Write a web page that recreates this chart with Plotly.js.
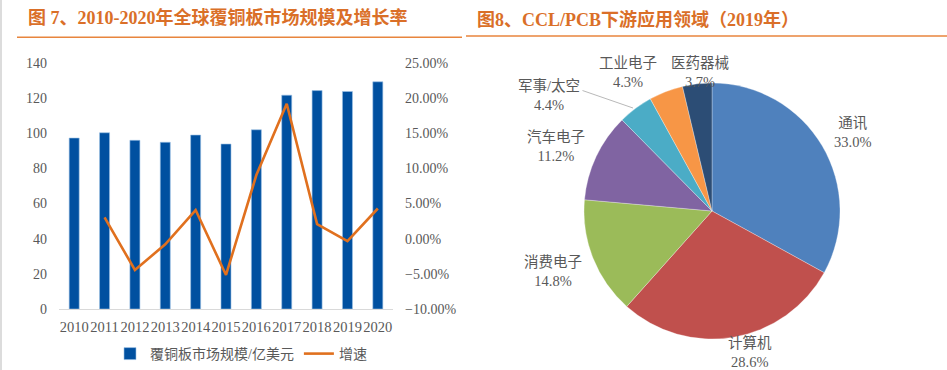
<!DOCTYPE html>
<html><head><meta charset="utf-8">
<script src="https://cdn.plot.ly/plotly-3.0.1.min.js"></script>
<style>html,body{margin:0;padding:0;background:#fff}#c{width:947px;height:370px}</style>
</head><body><div id="c"></div>
<script>
// ---- data ----
const years = ['2010','2011','2012','2013','2014','2015','2016','2017','2018','2019','2020'];
const marketSize = [97.3, 100.3, 96.0, 94.9, 99.0, 93.9, 102.0, 121.7, 124.3, 123.8, 129.3];
const growth = [null, 0.0304, -0.0445, -0.008, 0.0408, -0.0516, 0.0906, 0.192, 0.0209, -0.0033, 0.043];
const barName = '覆铜板市场规模/亿美元';
const lineName = '增速';
const pieLabels = ['通讯','计算机','消费电子','汽车电子','军事/太空','工业电子','医药器械'];
const pieValues = [33.0, 28.6, 14.8, 11.2, 4.4, 4.3, 3.7];
const title1 = '图 7、2010-2020年全球覆铜板市场规模及增长率';
const title2 = '图8、CCL/PCB下游应用领域（2019年）';

// ---- styles / layout ----
const W = 947, H = 370;
const px = x => x / W, py = y => 1 - y / H;
const serif = '"Liberation Serif", "Times New Roman", "Noto Sans CJK SC", serif';
const gray = '#595959';
const pieColors = ['#4F81BD','#C0504D','#9BBB59','#8064A2','#4BACC6','#F79646','#2C4D75'];
// label centre positions (pixels) for pie labels
const labelAnchor = [[852,132],[750,352],[553,271],[556,147],[549,95],[628,72],[700,72]];

const traces = [
  {type:'bar', x:years, y:marketSize, name:barName, width:0.33,
   marker:{color:'#0050A0', line:{color:'#9DC3E6', width:0.6}}, xaxis:'x', yaxis:'y'},
  {type:'scatter', mode:'lines', x:years, y:growth, name:lineName, connectgaps:false,
   line:{color:'#E0701E', width:2.6}, xaxis:'x', yaxis:'y2'},
  {type:'pie', labels:pieLabels, values:pieValues, sort:false, direction:'clockwise', rotation:0,
   marker:{colors:pieColors, line:{color:'#ffffff', width:0.3}}, textinfo:'none', hoverinfo:'label+percent',
   showlegend:false, domain:{x:[px(584), px(840)], y:[py(339), py(83)]}}
];

const annotations = [
  {text:'<b>'+title1+'</b>', xref:'paper', yref:'paper', x:px(26), y:py(18), xanchor:'left', yanchor:'middle',
   showarrow:false, font:{family:serif, size:18, color:'#DA6F28'}},
  {text:'<b>'+title2+'</b>', xref:'paper', yref:'paper', x:px(475), y:py(19), xanchor:'left', yanchor:'middle',
   showarrow:false, font:{family:serif, size:18, color:'#DA6F28'}}
];
pieLabels.forEach((lab, i) => {
  annotations.push({text: lab + '<br>' + pieValues[i].toFixed(1) + '%', xref:'paper', yref:'paper',
    x:px(labelAnchor[i][0]), y:py(labelAnchor[i][1]), xanchor:'center', yanchor:'middle',
    showarrow:false, align:'center', font:{family:serif, size:14.5, color:gray}});
});
// leader line for 军事/太空
annotations.push({text:'', xref:'paper', yref:'paper', axref:'paper', ayref:'paper',
  x:px(633), y:py(108), ax:px(581), ay:py(90), showarrow:true, arrowhead:0, arrowwidth:0.8, arrowcolor:'#A6A6A6'});

const layout = {
  width:W, height:H, margin:{l:0,r:0,t:0,b:0}, paper_bgcolor:'#fff', plot_bgcolor:'rgba(0,0,0,0)',
  font:{family:serif, color:gray},
  xaxis:{domain:[px(59), px(393)], type:'category', showline:true, linecolor:'#D9D9D9', linewidth:1,
         ticks:'', tickangle:0, tickfont:{family:serif, size:14.5, color:gray}, showgrid:false, zeroline:false,
         ticklabelstandoff:5},
  yaxis:{domain:[py(309), py(63)], range:[0,140], dtick:20, showgrid:false, zeroline:false, showline:false,
         tickfont:{family:serif, size:14, color:gray}, ticks:'', ticklabelstandoff:11},
  yaxis2:{overlaying:'y', side:'right', range:[-0.10,0.25], dtick:0.05, tickformat:'.2%', showgrid:false,
          zeroline:false, showline:false, tickfont:{family:serif, size:14, color:gray}, anchor:'x', ticklabelstandoff:11},
  bargap:0.67,
  legend:{orientation:'h', x:px(110), y:py(354), xanchor:'left', yanchor:'middle',
          font:{family:serif, size:14, color:gray}, traceorder:'normal'},
  annotations: annotations,
  shapes:[
    {type:'line', xref:'paper', yref:'paper', x0:px(17), x1:px(462), y0:py(37.3), y1:py(37.3), line:{color:'#E8853D', width:1.5}},
    {type:'line', xref:'paper', yref:'paper', x0:px(466), x1:px(947), y0:py(36), y1:py(36), line:{color:'#E8853D', width:1.5}},
    {type:'line', xref:'paper', yref:'paper', x0:px(1), x1:px(1), y0:0, y1:1, line:{color:'#D0D0D0', width:1.5}}
  ]
};
Plotly.newPlot('c', traces, layout, {displayModeBar:false, staticPlot:true});
</script></body></html>
